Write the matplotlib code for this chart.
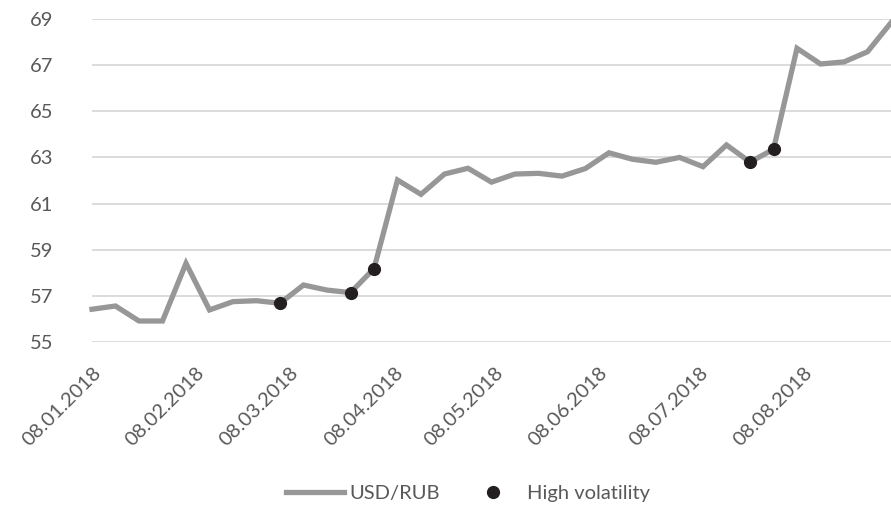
import matplotlib
matplotlib.use("Agg")
import matplotlib.pyplot as plt
import matplotlib.dates as mdates
import numpy as np
import pandas as pd

# weekly USD/RUB rates
DATES = pd.date_range("2018-01-08", periods=35, freq="7D")
RATES = [56.42, 56.56, 55.91, 55.91, 58.41, 56.39, 56.75, 56.79, 56.68,
         57.47, 57.25, 57.14, 58.18, 62.02, 61.40, 62.28, 62.53, 61.93,
         62.28, 62.31, 62.19, 62.52, 63.20, 62.92, 62.79, 63.00, 62.60,
         63.54, 62.80, 63.35, 67.73, 67.05, 67.14, 67.58, 68.84]
HIGH_VOL = [8, 11, 12, 28, 29]  # indices of high volatility weeks
TICK_DATES = pd.to_datetime(["2018-01-08", "2018-02-08", "2018-03-08", "2018-04-08",
                             "2018-05-08", "2018-06-08", "2018-07-08", "2018-08-08"])
YTICKS = [55, 57, 59, 61, 63, 65, 67, 69]

TXT = "#595959"
LINE = "#979797"
DOT = "#231f20"
FONT = "Lato"

fig = plt.figure(figsize=(8.91, 5.08), dpi=100)
ax = fig.add_axes([92/891, 1 - 342/508, 1 - 92/891, (342 - 19)/508])

ax.plot(DATES, RATES, color=LINE, lw=3.8, solid_joinstyle="miter",
        clip_on=False, zorder=3, label="USD/RUB")
ax.plot(DATES[HIGH_VOL], np.array(RATES)[HIGH_VOL], ls="none", marker="o",
        ms=8.5, color=DOT, clip_on=False, zorder=4, label="High volatility")

ax.set_ylim(55, 69)
ax.set_yticks(YTICKS)
ax.set_xlim(DATES[0], DATES[-1])
ax.set_xticks(TICK_DATES)
ax.xaxis.set_major_formatter(mdates.DateFormatter("%d.%m.%Y"))

ax.grid(axis="y", color="#d9d9d9", lw=1.3)
ax.set_axisbelow(True)
for s in ax.spines.values():
    s.set_visible(False)
ax.tick_params(length=0, labelcolor=TXT, labelsize=14.5)
ax.tick_params(axis="y", pad=28)
ax.tick_params(axis="x", pad=16)

for lab in ax.get_xticklabels():
    lab.set_rotation(45)
    lab.set_ha("right")
    lab.set_va("top")
    lab.set_rotation_mode("anchor")
    lab.set_fontfamily(FONT)
for lab in ax.get_yticklabels():
    lab.set_fontfamily(FONT)

leg = fig.legend(loc="center", bbox_to_anchor=(468/891, 1 - 493/508),
                 ncol=2, frameon=False, handlelength=2.9, handletextpad=0.25,
                 columnspacing=1.2, prop={"family": FONT, "size": 14.5})
for t in leg.get_texts():
    t.set_color(TXT)

fig.savefig("out.png", dpi=100)
